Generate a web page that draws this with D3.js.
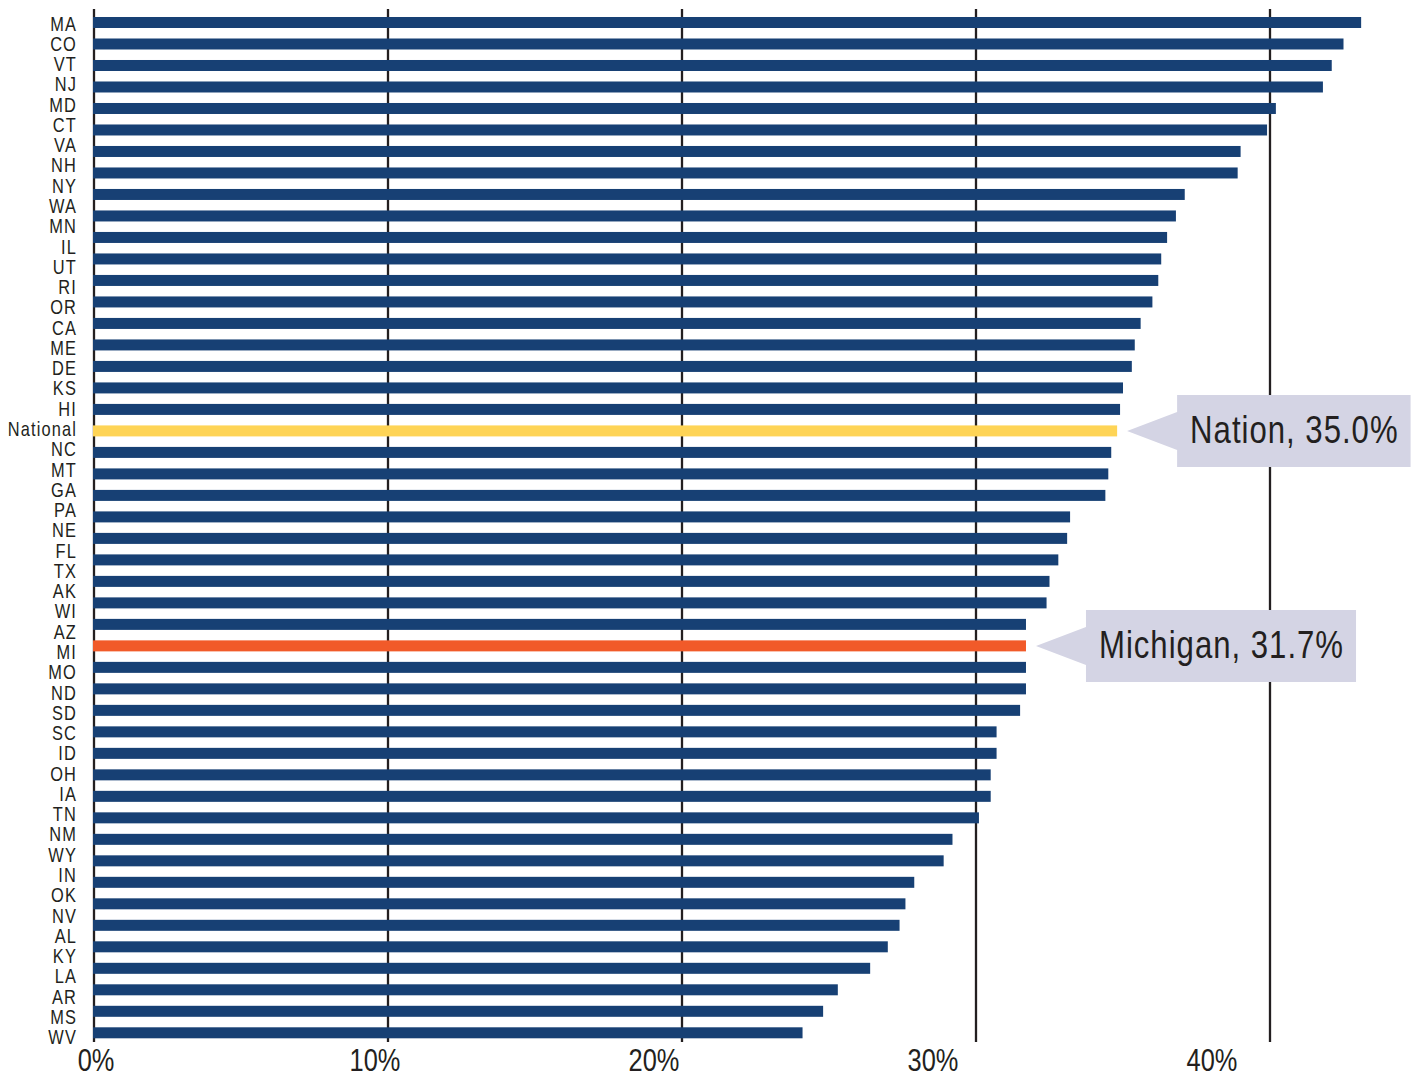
<!DOCTYPE html>
<html>
<head>
<meta charset="utf-8">
<script src="https://cdn.jsdelivr.net/npm/d3@7"></script>
<style>
  html, body { margin: 0; padding: 0; background: #fff; }
  svg { display: block; }
  text { font-family: "Liberation Sans", Arial, sans-serif; fill: #231f20; }
</style>
</head>
<body>
<svg id="chart" width="1413" height="1078"></svg>
<script>
// ---- data ----
const stateLabels = ["MA","CO","VT","NJ","MD","CT","VA","NH","NY","WA","MN","IL","UT","RI","OR","CA","ME","DE","KS","HI",
  "National","NC","MT","GA","PA","NE","FL","TX","AK","WI","AZ","MI","MO","ND","SD","SC","ID","OH","IA","TN","NM","WY",
  "IN","OK","NV","AL","KY","LA","AR","MS","WV"];
// bar values (percent), top to bottom, as drawn in the reference
const barValues = [43.1,42.5,42.1,41.8,40.2,39.9,39.0,38.9,37.1,36.8,36.5,36.3,
  36.2,36.0,35.6,35.4,35.3,35.0,34.9,34.8,
  34.6,34.5,34.4,33.2,33.1,32.8,32.5,32.4,31.7,31.7,31.7,31.7,
  31.5,30.7,30.7,30.5,30.5,30.1,29.2,28.9,27.9,27.6,27.4,27.0,26.4,25.3,24.8,24.1];
const barKind = barValues.map((v, i) => i === 19 ? "nation" : i === 29 ? "michigan" : "state");
const tickValues = [0, 10, 20, 30, 40];
const tickLabels = ["0%", "10%", "20%", "30%", "40%"];
const callouts = [
  { text: "Nation, 35.0%", barIndex: 19 },
  { text: "Michigan, 31.7%", barIndex: 29 }
];

// ---- drawing ----
const svg = d3.select("#chart");
const colors = { state: "#174074", nation: "#fed456", michigan: "#f15a29" };
const narrow = 0.82; // condensed typeface emulation

const x = d3.scaleLinear().domain([0, 40]).range([94, 1270]);
const xLabel = d3.scaleLinear().domain([0, 40]).range([96, 1212]);
const yBar = d3.scalePoint().domain(d3.range(barValues.length)).range([22.5, 1032.8]);
const yLab = d3.scalePoint().domain(stateLabels).range([23.3, 1037]);
const barH = 11;

// gridlines
svg.append("g").selectAll("line").data(tickValues).join("line")
  .attr("x1", d => x(d)).attr("x2", d => x(d))
  .attr("y1", 9).attr("y2", 1042)
  .attr("stroke", "#231f20").attr("stroke-width", 2.3);

// bars
svg.append("g").selectAll("rect").data(barValues).join("rect")
  .attr("x", x(0) - 1)
  .attr("y", (d, i) => yBar(i) - barH / 2)
  .attr("width", d => x(d) - x(0) + 1)
  .attr("height", barH)
  .attr("fill", (d, i) => colors[barKind[i]]);

// state labels
svg.append("g").selectAll("g").data(stateLabels).join("g")
  .attr("transform", d => `translate(77,${yLab(d) + 7.2}) scale(${narrow},1)`)
  .append("text")
  .attr("text-anchor", "end")
  .attr("font-size", 20).attr("letter-spacing", 1.4)
  .text(d => d);

// x tick labels
svg.append("g").selectAll("g").data(tickValues).join("g")
  .attr("transform", d => `translate(${xLabel(d)},1071) scale(${narrow},1)`)
  .append("text")
  .attr("text-anchor", "middle")
  .attr("font-size", 31)
  .text((d, i) => tickLabels[i]);

// callouts
const boxH = 72, padL = 13, padR = 12, gap = 10, arrowLen = 50, arrowHalf = 19;
callouts.forEach(c => {
  const cy = yBar(c.barIndex);
  const tip = x(barValues[c.barIndex]) + gap;
  const bx = tip + arrowLen;
  const g = svg.append("g");
  const path = g.append("path").attr("fill", "#d4d4e4");
  const tg = g.append("g").attr("transform", `translate(${bx + padL},${cy + 12}) scale(${narrow},1)`);
  const t = tg.append("text").attr("font-size", 38).attr("letter-spacing", 1.2).text(c.text);
  const w = t.node().getComputedTextLength() * narrow;
  path.attr("d", `M${tip},${cy} L${bx},${cy - arrowHalf} L${bx},${cy - boxH / 2} L${bx + padL + w + padR},${cy - boxH / 2} L${bx + padL + w + padR},${cy + boxH / 2} L${bx},${cy + boxH / 2} L${bx},${cy + arrowHalf} Z`);
});
</script>
</body>
</html>
